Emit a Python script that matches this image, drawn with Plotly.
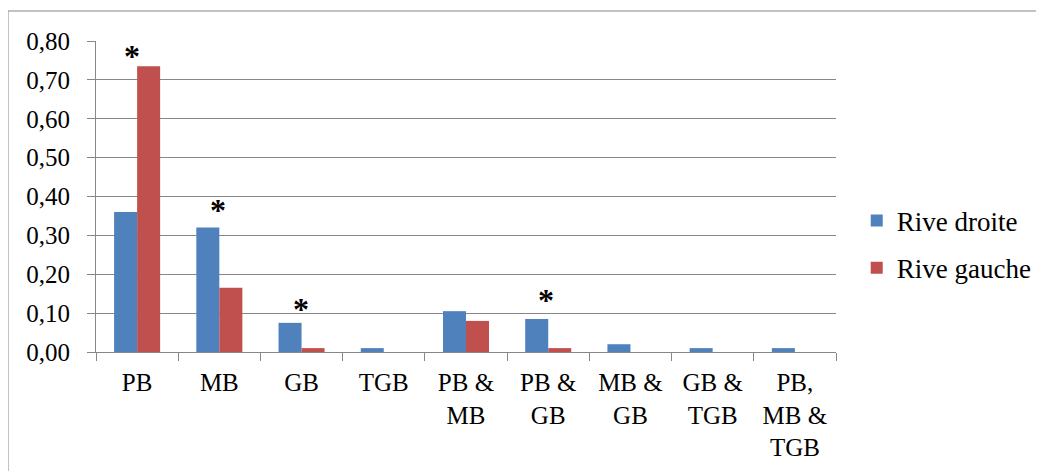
import plotly.graph_objects as go

categories = ["PB", "MB", "GB", "TGB", "PB &<br>MB", "PB &<br>GB", "MB &<br>GB", "GB &<br>TGB", "PB,<br>MB &<br>TGB"]
rive_droite = [0.36, 0.32, 0.075, 0.01, 0.105, 0.085, 0.02, 0.01, 0.01]
rive_gauche = [0.735, 0.165, 0.01, 0.0, 0.08, 0.01, 0.0, 0.0, 0.0]
star_categories = ["PB", "MB", "GB", "PB &<br>GB"]
y_ticks = [0.0, 0.1, 0.2, 0.3, 0.4, 0.5, 0.6, 0.7, 0.8]
y_tick_labels = ["0,00", "0,10", "0,20", "0,30", "0,40", "0,50", "0,60", "0,70", "0,80"]

FONT = "Liberation Serif"
GRID = "#878787"

fig = go.Figure()
fig.add_trace(go.Bar(name="Rive droite", x=categories, y=rive_droite, marker_color="#4F81BD",
                     marker_line_width=0, legendgroup="d"))
fig.add_trace(go.Bar(name="Rive gauche", x=categories, y=rive_gauche, marker_color="#C0504D",
                     marker_line_width=0, legendgroup="g"))

star_yshift = [-10, -2, -6, -1]
star_xshift = [-5, -1, -1, -2]
for i, cat in enumerate(star_categories):
    idx = categories.index(cat)
    top = max(rive_droite[idx], rive_gauche[idx])
    fig.add_annotation(x=cat, y=top, text="<b>*</b>", showarrow=False, yanchor="bottom",
                       yshift=star_yshift[i], xshift=star_xshift[i],
                       font=dict(family=FONT, size=32, color="black"))

fig.add_shape(type="rect", xref="paper", yref="paper", x0=-0.1189, x1=1.35, y0=-0.6, y1=1.0965,
              line=dict(color=GRID, width=1), fillcolor="rgba(0,0,0,0)", layer="below")

fig.update_layout(
    width=1044, height=471,
    margin=dict(l=88, r=216, t=33, b=127),
    paper_bgcolor="white", plot_bgcolor="white",
    barmode="group", bargap=0.44, bargroupgap=0,
    font=dict(family=FONT, size=25, color="black"),
    showlegend=True,
    legend=dict(x=1.028, xanchor="left", y=0.3457, yanchor="middle", font=dict(family=FONT, size=27),
                itemwidth=30, tracegroupgap=9, traceorder="grouped", bgcolor="rgba(0,0,0,0)"),
    xaxis=dict(showline=True, linecolor=GRID, linewidth=1, ticks="outside", ticklen=8,
               tickcolor=GRID, tickson="boundaries", showgrid=False, tickangle=0,
               mirror=False, ticklabelstandoff=8, automargin=False),
    yaxis=dict(range=[0, 0.8], tickvals=y_ticks, ticktext=y_tick_labels, showline=True,
               linecolor=GRID, linewidth=1, ticks="outside", ticklen=8, tickcolor=GRID,
               showgrid=True, gridcolor=GRID, gridwidth=1, zeroline=False,
               ticklabelstandoff=12, automargin=False),
)

fig.write_html("out.html")
